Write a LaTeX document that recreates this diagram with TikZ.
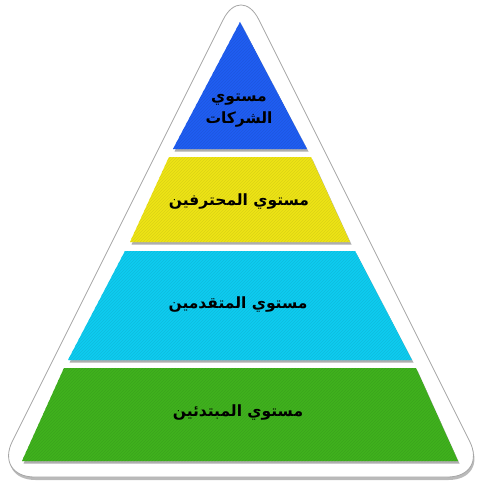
\documentclass[tikz,border=0pt]{standalone}
\usepackage{fontspec}
\newfontfamily\arabicfont[Script=Arabic]{DejaVu Sans}
\TeXXeTstate=1
\usetikzlibrary{shadows, patterns, positioning}

\definecolor{lvlblue}{RGB}{32,94,242}
\definecolor{lvlyellow}{RGB}{238,228,22}
\definecolor{lvlcyan}{RGB}{14,204,240}
\definecolor{lvlgreen}{RGB}{64,178,30}

\begin{document}
\begin{tikzpicture}[x=1pt, y=-1pt,
	outer/.style={fill=white, draw=gray!70, line width=0.8pt, rounded corners=40pt,
		drop shadow={shadow xshift=1pt, shadow yshift=-3pt, opacity=.45, fill=black!60}},
	layer/.style={drop shadow={shadow xshift=1.5pt, shadow yshift=-2.5pt, opacity=.45, fill=black!70},
		preaction={fill=#1}, pattern=north east lines, pattern color=#1!92!black},
	level/.style={font=\arabicfont\bfseries\fontsize{15.5}{22}\selectfont, align=center}]
	\useasboundingbox (0,0) rectangle (483,487);
	\path[outer] (241,-16) -- (487.5,477) -- (-5.5,477) -- cycle;
	\path[layer=lvlblue] (240,22) -- (307,149) -- (173,149) -- cycle;
	\foreach \col/\ya/\yb/\wa/\wb in {lvlyellow/157/242/71/110, lvlcyan/251/360/115/172, lvlgreen/368/461/176/218}
		\path[layer=\col] (240-\wa,\ya) -- (240+\wa,\ya) -- (240+\wb,\yb) -- (240-\wb,\yb) -- cycle;
	\node[level] (firms)   at (239,111) {\beginR مستوي\endR\\\beginR الشركات\endR};
	\node[level] (pros)    at (239,202) {\beginR مستوي المحترفين\endR};
	\node[level] (advanced) at (238,305) {\beginR مستوي المتقدمين\endR};
	\node[level] (beginners) at (238,412) {\beginR مستوي المبتدئين\endR};
\end{tikzpicture}
\end{document}
